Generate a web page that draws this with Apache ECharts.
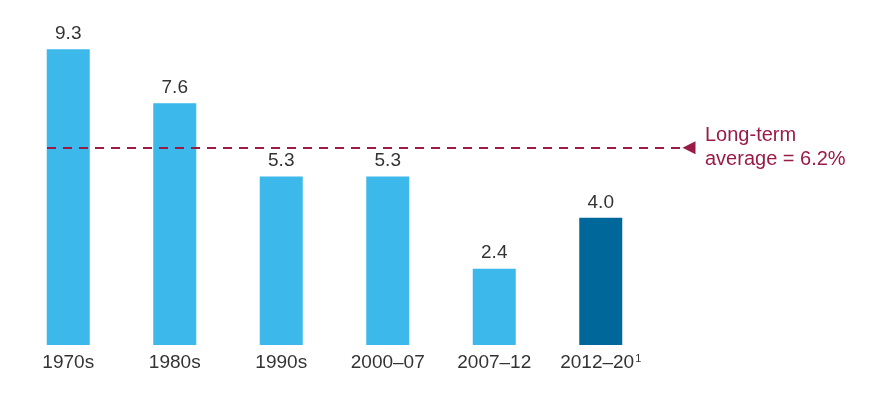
<!DOCTYPE html>
<html>
<head>
<meta charset="utf-8">
<script src="https://cdn.jsdelivr.net/npm/echarts@6/dist/echarts.min.js"></script>
<style>
  html, body { margin: 0; padding: 0; background: #fff; }
  #main { width: 870px; height: 400px; }
</style>
</head>
<body>
<div id="main"></div>
<script>
// data
var periods = ['1970s', '1980s', '1990s', '2000–07', '2007–12', '2012–20¹'];
var growth = [9.3, 7.6, 5.3, 5.3, 2.4, 4.0];
var longTermAverage = 6.2;

var lightBlue = '#3cb8ea';
var darkBlue = '#00679b';
var crimson = '#9b1b47';
var fontName = '"Liberation Sans", Arial, sans-serif';

var chart = echarts.init(document.getElementById('main'));

var option = {
    backgroundColor: '#fff',
    animation: false,
    grid: { left: 15, right: 216, top: 27, bottom: 55 },
    xAxis: {
        type: 'category',
        data: periods,
        axisLine: { show: false },
        axisTick: { show: false },
        axisLabel: {
            interval: 0,
            color: '#333',
            fontSize: 19,
            fontFamily: fontName,
            margin: 8,
            // footnote mark drawn small and raised
            formatter: function (v) {
                return v.replace('¹', '{sup|1}');
            },
            rich: {
                sup: {
                    color: '#333',
                    fontSize: 11,
                    fontFamily: fontName,
                    verticalAlign: 'top',
                    padding: [0, 0, 6, 1]
                }
            }
        }
    },
    yAxis: {
        type: 'value',
        min: 0,
        max: 10,
        show: false
    },
    series: [{
        type: 'bar',
        data: growth,
        barWidth: 43,
        itemStyle: {
            // last period is highlighted in dark blue
            color: function (p) {
                return p.dataIndex === periods.length - 1 ? darkBlue : lightBlue;
            }
        },
        label: {
            show: true,
            position: 'top',
            distance: 6,
            color: '#333',
            fontSize: 19,
            fontFamily: fontName,
            formatter: function (p) { return p.value.toFixed(1); }
        },
        markLine: {
            silent: true,
            symbol: ['none', 'path://M0,0L10,0L5,10Z'],
            symbolSize: 13,
            lineStyle: { type: [9, 7], color: crimson, width: 1.8 },
            itemStyle: { color: crimson },
            label: {
                show: true,
                position: 'end',
                distance: 16,
                color: crimson,
                fontSize: 20,
                lineHeight: 24,
                fontFamily: fontName,
                formatter: 'Long-term\naverage = ' + longTermAverage + '%'
            },
            data: [[
                { x: 47, yAxis: longTermAverage },
                { x: 689, yAxis: longTermAverage }
            ]]
        }
    }]
};

chart.setOption(option);
</script>
</body>
</html>
